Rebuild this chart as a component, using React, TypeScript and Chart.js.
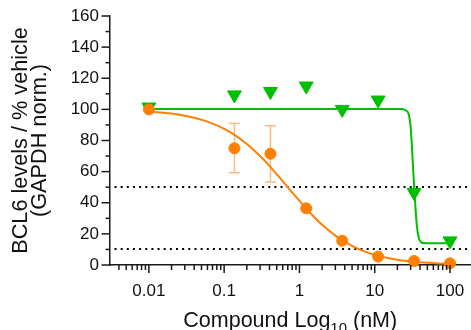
import React, { useEffect, useRef } from 'react';
import { Chart, registerables } from 'chart.js';

Chart.register(...registerables);

const FONT = "'Liberation Sans', Arial, Helvetica, sans-serif";

// Concentrations (nM)
const CONC = [0.01, 0.137, 0.412, 1.23, 3.7, 11.1, 33.3, 100];
// Orange series (circles)
const ORANGE_VALUES = [100, 75, 71.5, 36.4, 15.6, 5.4, 2.6, 1.1];
const ORANGE_ERR_LOW: (number | null)[] = [null, 59.3, 53.3, null, null, null, null, null];
const ORANGE_ERR_HIGH: (number | null)[] = [null, 91, 89.5, null, null, null, null, null];
// Green series (triangles)
const GREEN_VALUES = [101.5, 109.3, 111.5, 115, 100, 106, 46.6, 15.5];

// Fitted curves
const ORANGE_FIT_X = [0.01, 0.02, 0.035, 0.06, 0.1, 0.139, 0.2, 0.3, 0.405, 0.55, 0.75, 1, 1.23, 1.6, 2.2, 3, 3.7, 5, 7, 10, 15, 22, 33, 50, 70, 100];
const ORANGE_FIT_Y = [98.6, 97.3, 95.2, 92.1, 87.5, 83.5, 77.8, 70, 63.4, 56, 48.3, 41.2, 36.4, 30.4, 24.1, 18.9, 15.9, 12.3, 9.1, 6.5, 4.5, 3.1, 2.1, 1.4, 1, 0.7];
const GREEN_FIT_X = [0.01, 22.7, 26, 28.4, 30.2, 32.1, 34.1, 36.3, 38.5, 43.5, 60, 100];
const GREEN_FIT_Y = [100.3, 100.3, 99.3, 96.5, 87, 65, 43, 25, 17.5, 14.2, 14, 14];

// Dotted reference lines
const REF_LINES = [50, 10];

// Axes
const X_MIN = 0.003;
const X_MAX = 190;
const X_MAJOR_TICKS = [0.01, 0.1, 1, 10, 100];
const X_TICK_LABELS = ['0.01', '0.1', '1', '10', '100'];
const Y_MIN = 0;
const Y_MAX = 160;
const Y_MAJOR_STEP = 20;
const Y_MINOR_STEP = 10;

const Y_TITLE = ['BCL6 levels / % vehicle', '(GAPDH norm.)'];
const X_TITLE_MAIN = 'Compound Log';
const X_TITLE_SUB = '10';
const X_TITLE_UNIT = ' (nM)';

const ORANGE = '#FF8000';
const ORANGE_ERR = 'rgba(255,140,40,0.6)';
const GREEN = '#00BF00';
const AXIS = '#1a1a1a';

function buildXTicks(): number[] {
  const out: number[] = [];
  for (let e = -3; e <= 2; e++) {
    for (let m = 1; m <= 9; m++) {
      const v = parseFloat((m * Math.pow(10, e)).toPrecision(6));
      if (v > X_MIN * 1.01 && v <= X_MAX) out.push(v);
    }
  }
  return out;
}

function isMajorX(v: number) {
  return X_MAJOR_TICKS.some((t) => Math.abs(t - v) / t < 1e-6);
}

const decor = {
  id: 'decor',
  beforeDatasetsDraw(chart: any) {
    const { ctx, chartArea, scales } = chart;
    const x = scales.x;
    const y = scales.y;
    ctx.save();
    ctx.strokeStyle = '#000';
    ctx.lineWidth = 2;
    ctx.setLineDash([2, 4.15]);
    for (const v of REF_LINES) {
      const py = Math.round(y.getPixelForValue(v));
      ctx.beginPath();
      ctx.moveTo(chartArea.left + 5, py);
      ctx.lineTo(chartArea.right, py);
      ctx.stroke();
    }
    ctx.setLineDash([]);
    ctx.strokeStyle = ORANGE_ERR;
    ctx.lineWidth = 1.5;
    CONC.forEach((c, i) => {
      const lo = ORANGE_ERR_LOW[i];
      const hi = ORANGE_ERR_HIGH[i];
      if (lo == null || hi == null) return;
      const px = x.getPixelForValue(c);
      const pl = y.getPixelForValue(lo);
      const ph = y.getPixelForValue(hi);
      ctx.beginPath();
      ctx.moveTo(px, pl);
      ctx.lineTo(px, ph);
      ctx.moveTo(px - 5.5, pl);
      ctx.lineTo(px + 5.5, pl);
      ctx.moveTo(px - 5.5, ph);
      ctx.lineTo(px + 5.5, ph);
      ctx.stroke();
    });
    ctx.restore();
  },
  afterDraw(chart: any) {
    const { ctx, chartArea, scales } = chart;
    const x = scales.x;
    const y = scales.y;
    ctx.save();
    ctx.strokeStyle = AXIS;
    ctx.lineWidth = 1.5;
    // x tick marks
    for (const t of x.ticks) {
      const px = x.getPixelForValue(t.value);
      const len = isMajorX(t.value) ? 8 : 5;
      ctx.beginPath();
      ctx.moveTo(px, chartArea.bottom);
      ctx.lineTo(px, chartArea.bottom + len);
      ctx.stroke();
    }
    // y tick marks
    for (let v = Y_MIN; v <= Y_MAX; v += Y_MINOR_STEP) {
      const py = y.getPixelForValue(v);
      const len = v % Y_MAJOR_STEP === 0 ? 8 : 4;
      ctx.beginPath();
      ctx.moveTo(chartArea.left, py);
      ctx.lineTo(chartArea.left - len, py);
      ctx.stroke();
    }
    // x title with subscript
    const f1 = `21.5px ${FONT}`;
    const f2 = `15px ${FONT}`;
    ctx.fillStyle = '#111';
    ctx.textBaseline = 'alphabetic';
    ctx.textAlign = 'left';
    ctx.font = f1;
    const w1 = ctx.measureText(X_TITLE_MAIN).width;
    const w3 = ctx.measureText(X_TITLE_UNIT).width;
    ctx.font = f2;
    const w2 = ctx.measureText(X_TITLE_SUB).width;
    const total = w1 + w2 + w3;
    let sx = (chartArea.left + chartArea.right) / 2 - total / 2;
    const base = 327;
    ctx.font = f1;
    ctx.fillText(X_TITLE_MAIN, sx, base);
    sx += w1;
    ctx.font = f2;
    ctx.fillText(X_TITLE_SUB, sx, base + 5.5);
    sx += w2;
    ctx.font = f1;
    ctx.fillText(X_TITLE_UNIT, sx, base);
    ctx.restore();
  },
};

export default function App() {
  const ref = useRef<HTMLCanvasElement | null>(null);
  useEffect(() => {
    if (!ref.current) return;
    Chart.defaults.font.family = FONT;
    const chart = new Chart(ref.current, {
      type: 'line',
      data: {
        datasets: [
          {
            label: 'orange points',
            data: CONC.map((c, i) => ({ x: c, y: ORANGE_VALUES[i] })),
            showLine: false,
            pointStyle: 'circle',
            pointRadius: 5.5,
            pointBorderWidth: 1,
            pointBackgroundColor: ORANGE,
            pointBorderColor: ORANGE,
            borderColor: ORANGE,
            backgroundColor: ORANGE,
            clip: false,
          },
          {
            label: 'green points',
            data: CONC.map((c, i) => ({ x: c, y: GREEN_VALUES[i] })),
            showLine: false,
            pointStyle: 'triangle',
            rotation: 180,
            pointRadius: 8,
            pointBorderWidth: 1,
            pointBackgroundColor: GREEN,
            pointBorderColor: GREEN,
            borderColor: GREEN,
            backgroundColor: GREEN,
            clip: false,
          },
          {
            label: 'orange fit',
            data: ORANGE_FIT_X.map((c, i) => ({ x: c, y: ORANGE_FIT_Y[i] })),
            borderColor: ORANGE,
            borderWidth: 2,
            pointRadius: 0,
            cubicInterpolationMode: 'monotone',
            fill: false,
            clip: false,
          },
          {
            label: 'green fit',
            data: GREEN_FIT_X.map((c, i) => ({ x: c, y: GREEN_FIT_Y[i] })),
            borderColor: GREEN,
            borderWidth: 2,
            pointRadius: 0,
            cubicInterpolationMode: 'monotone',
            fill: false,
            clip: false,
          },
        ],
      },
      options: {
        animation: false,
        responsive: false,
        devicePixelRatio: 1,
        layout: { autoPadding: false, padding: { top: 16, right: 0, left: 0, bottom: 0 } },
        plugins: {
          legend: { display: false },
          tooltip: { enabled: false },
        },
        scales: {
          x: {
            type: 'logarithmic',
            min: X_MIN,
            max: X_MAX,
            afterBuildTicks: (s: any) => {
              s.ticks = buildXTicks().map((v) => ({ value: v }));
            },
            afterFit: (s: any) => {
              s.height = 65;
              s.paddingRight = 0;
              s.paddingLeft = 0;
            },
            ticks: {
              autoSkip: false,
              maxRotation: 0,
              minRotation: 0,
              padding: 8,
              color: '#111',
              font: { family: FONT, size: 17 },
              callback: (v: any) => {
                const idx = X_MAJOR_TICKS.findIndex((t) => Math.abs(t - Number(v)) / t < 1e-6);
                return idx >= 0 ? X_TICK_LABELS[idx] : '';
              },
            },
            grid: {
              display: true,
              drawOnChartArea: false,
              drawTicks: true,
              tickLength: 8,
              tickColor: 'rgba(0,0,0,0)',
            },
            border: { display: true, color: AXIS, width: 1.5 },
          },
          y: {
            type: 'linear',
            min: Y_MIN,
            max: Y_MAX,
            afterFit: (s: any) => {
              s.width = 109.5;
              s.paddingTop = 0;
              s.paddingBottom = 0;
            },
            ticks: {
              stepSize: Y_MINOR_STEP,
              autoSkip: false,
              padding: 2.5,
              color: '#111',
              font: { family: FONT, size: 17 },
              callback: (v: any) => (Number(v) % Y_MAJOR_STEP === 0 ? String(v) : ''),
            },
            grid: {
              display: true,
              drawOnChartArea: false,
              drawTicks: true,
              tickLength: 8,
              tickColor: 'rgba(0,0,0,0)',
            },
            border: { display: true, color: AXIS, width: 1.5 },
            title: {
              display: true,
              text: Y_TITLE,
              color: '#111',
              font: { family: FONT, size: 21.7, lineHeight: 0.876 },
              padding: { top: 11.5, bottom: 0 },
            },
          },
        },
      },
      plugins: [decor],
    } as any);
    return () => chart.destroy();
  }, []);
  return (
    <div style={{ position: 'fixed', left: 0, top: 0, width: 471, height: 330, background: '#fff' }}>
      <canvas ref={ref} width={471} height={330} style={{ display: 'block' }} />
    </div>
  );
}
